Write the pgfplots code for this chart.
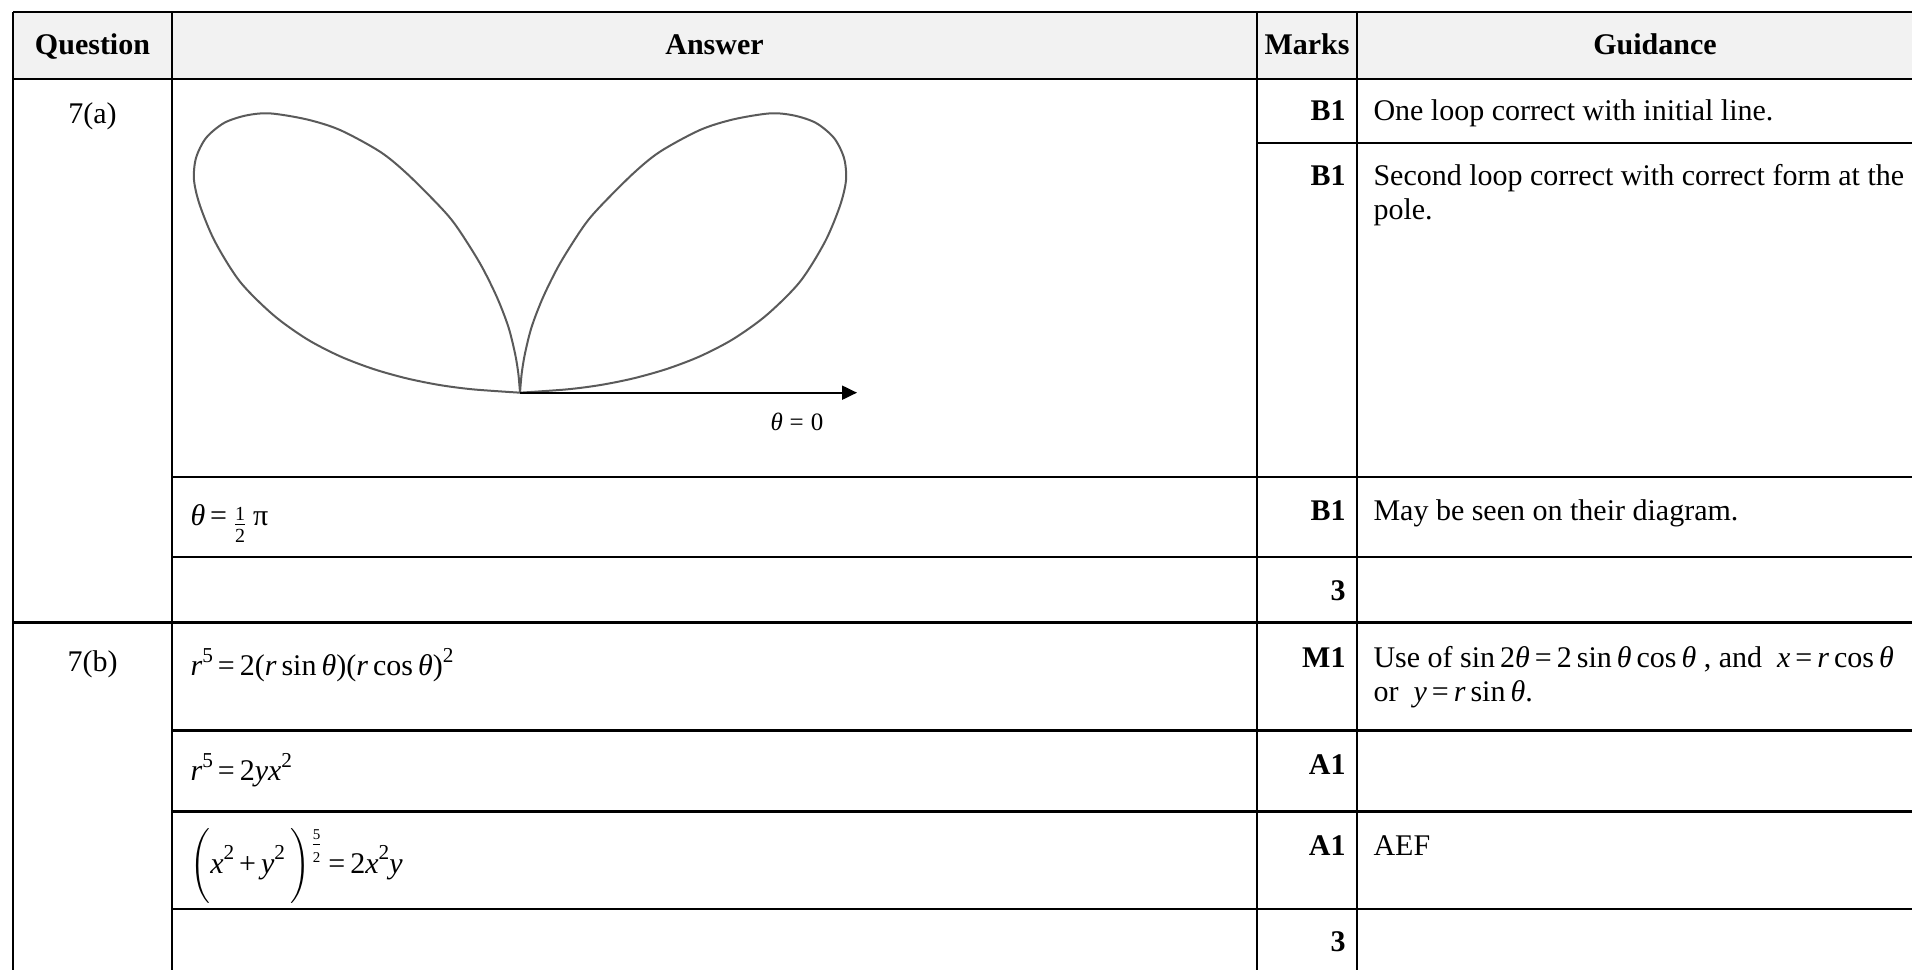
\documentclass[border=0pt]{standalone}
\usepackage{pgfplots}
\pgfplotsset{compat=1.18}
\usepackage{fontspec}
\setmainfont{Liberation Serif}
\usetikzlibrary{arrows.meta}
\definecolor{hdr}{HTML}{F2F2F2}
\definecolor{curve}{HTML}{5A5A5A}
% small helpers for the hand-set formulas
\newcommand{\mi}[1]{\textit{#1}}
\newcommand{\sps}[1]{\raisebox{0.45em}{\fontsize{8.5}{8.5}\selectfont #1}}
\newcommand{\half}{\raisebox{-2.5pt}{${\mbox{\fontsize{8}{8}\selectfont 1}\over\mbox{\fontsize{8}{8}\selectfont 2}}$}}
\newcommand{\fivehalf}{\raisebox{8.5pt}{${\mbox{\fontsize{6}{6}\selectfont 5}\over\mbox{\fontsize{6}{6}\selectfont 2}}$}}

\begin{document}
\fontsize{12}{13.8}\selectfont
\begin{tikzpicture}[x=0.4pt,y=0.4pt]
\useasboundingbox (0,0) rectangle (1912,970);
\clip (0,0) rectangle (1912,970);
\begin{axis}[
  at={(0,0)},anchor=south west,
  x=0.4pt,y=0.4pt,
  xmin=0,xmax=1912,ymin=0,ymax=970,
  y dir=reverse,
  hide axis,clip=false,
]
% header band
\fill[hdr] (13,12) rectangle (1912,79);

% polar sketch, right loop
\addplot[curve,line width=0.8pt,smooth] coordinates {
 (520,392.7) (566.7,389.4) (600,385.1) (633.3,378.4) (666.7,369.0) (700,356.3)
 (733.3,339.0) (766.7,315.0) (800,281.7) (825,241.7) (840,205.7) (846,180)
 (844,158) (834,138) (816,123) (794,115.5) (770,113.4) (733.3,119.4)
 (700,130) (660,151.7) (633.3,173.4) (600,206.7) (583.3,226.7) (560,263.4)
 (543.3,296.7) (531.7,326.7) (525,353.4) (521.7,373.4) (520,392.7)
};
% left loop (mirror image)
\addplot[curve,line width=0.8pt,smooth] coordinates {
 (520,392.7) (473.3,389.4) (440,385.1) (406.7,378.4) (373.3,369.0) (340,356.3)
 (306.7,339.0) (273.3,315.0) (240,281.7) (215,241.7) (200,205.7) (194,180)
 (196,158) (206,138) (224,123) (246,115.5) (270,113.4) (306.7,119.4)
 (340,130) (380,151.7) (406.7,173.4) (440,206.7) (456.7,226.7) (480,263.4)
 (496.7,296.7) (508.3,326.7) (515,353.4) (518.3,373.4) (520,392.7)
};
% initial line
\addplot[black,line width=0.8pt,-{Triangle[length=6pt,width=5.6pt]}] coordinates {(520,392.7) (857,392.7)};
\node[anchor=base west,inner sep=0,font=\fontsize{10}{11}\selectfont] at (770,431) {\mi{θ}\;=\;0};

% table rules
\begin{scope}[line width=0.9pt]
\draw (13,12) -- (1912,12);
\draw (13,79) -- (1912,79);
\draw (1257,143) -- (1912,143);
\draw (172,477) -- (1912,477);
\draw (172,557) -- (1912,557);
\draw (13,622.5) -- (1912,622.5);
\draw (172,730.5) -- (1912,730.5);
\draw (172,811.5) -- (1912,811.5);
\draw (172,909) -- (1912,909);
\draw (13,12) -- (13,975);
\draw (172,12) -- (172,975);
\draw (1257,12) -- (1257,975);
\draw (1357,12) -- (1357,975);
\end{scope}

% header
\begin{scope}[every node/.style={anchor=base,inner sep=0,font=\bfseries}]
\node at (92.5,55) {Question};
\node at (714.5,55) {Answer};
\node at (1307,55) {Marks};
\node at (1655,55) {Guidance};
\end{scope}

% question labels
\node[anchor=base,inner sep=0] at (92.5,124) {7(a)};
\node[anchor=base,inner sep=0] at (92.5,672) {7(b)};

% answers
\begin{scope}[every node/.style={anchor=base west,inner sep=0}]
\node at (190,526) {\mi{θ}\,=\,\half\,π};
\node at (190,676) {\mi{r}\sps{5}\,=\,2(\mi{r}\,sin\,\mi{θ})(\mi{r}\,cos\,\mi{θ})\sps{2}};
\node at (190,781) {\mi{r}\sps{5}\,=\,2\mi{yx}\sps{2}};
\node at (190,873) {$\Bigg($\mi{x}\sps{2}\,+\,\mi{y}\sps{2}\,$\Bigg)$\fivehalf\,=\,2\mi{x}\sps{2}\mi{y}};
\end{scope}

% marks
\begin{scope}[every node/.style={anchor=base east,inner sep=0,font=\bfseries}]
\node at (1346,121) {B1};
\node at (1346,186) {B1};
\node at (1346,521) {B1};
\node at (1346,601) {3};
\node at (1346,668) {M1};
\node at (1346,775) {A1};
\node at (1346,856) {A1};
\node at (1346,952) {3};
\end{scope}

% guidance
\begin{scope}[every node/.style={anchor=base west,inner sep=0}]
\node at (1373,121) {One loop correct with initial line.};
\node at (1373,186) {Second loop correct with correct form at the};
\node at (1373,220) {pole.};
\node at (1373,521) {May be seen on their diagram.};
\node at (1373,668) {Use of sin\,2\mi{θ}\,=\,2\,sin\,\mi{θ}\,cos\,\mi{θ} , and\ \ \mi{x}\,=\,\mi{r}\,cos\,\mi{θ}};
\node at (1373,702) {or\ \ \mi{y}\,=\,\mi{r}\,sin\,\mi{θ}.};
\node at (1373,856) {AEF};
\end{scope}
\end{axis}
\end{tikzpicture}
\end{document}
